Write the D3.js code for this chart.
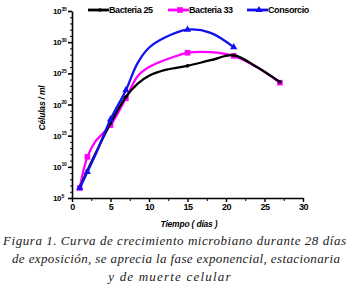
<!DOCTYPE html>
<html>
<head>
<meta charset="utf-8">
<script src="https://cdn.jsdelivr.net/npm/d3@7"></script>
<style>
  body { margin: 0; background: #fff; }
  svg { display: block; }
  .axis text { font-family: "Liberation Sans", Arial, sans-serif; font-weight: bold; }
</style>
</head>
<body>
<div id="chart"></div>
<script>
const width = 349;
const height = 297;

// days of measurement
const days = [1, 2, 3, 5, 7, 8.5, 10, 12, 15, 18, 21, 24, 27];
const markerDays = [1, 2, 5, 7, 15, 21, 27];
// log10(cells/ml)
const bacteria25 = [6.6, 9.4, 12.0, 17.0, 21.2, 23.3, 24.6, 25.5, 26.2, 27.1, 27.9, 26.0, 23.6];
const bacteria33 = [6.6, 11.6, 14.0, 16.7, 21.0, 24.5, 26.0, 27.1, 28.3, 28.4, 27.8, 26.0, 23.5];
const consorcio = [6.6, 9.2, 11.8, 17.6, 22.3, 26.6, 29.1, 30.7, 32.0, 31.5, 29.2];
const seriesNames = ["Bacteria 25", "Bacteria 33", "Consorcio"];
const yTicks = [5, 10, 15, 20, 25, 30, 35];
const xTicks = [0, 5, 10, 15, 20, 25, 30];
const captionLines = [
  "Figura 1. Curva de crecimiento microbiano durante 28 días",
  "de exposición, se aprecia la fase exponencial, estacionaria",
  "y de muerte celular"
];

const colors = ["#000000", "#ff00ff", "#1010f0"];
const series = [bacteria25, bacteria33, consorcio];

const svg = d3.select("#chart").append("svg")
  .attr("width", width)
  .attr("height", height);

const x = d3.scaleLinear().domain([0, 30]).range([72, 303]);
const y = d3.scaleLinear().domain([5, 35]).range([198, 11]);

// y axis: major + minor ticks
const yAxis = svg.append("g").attr("class", "axis")
  .attr("transform", `translate(${x(0)},0)`)
  .call(d3.axisLeft(y).tickValues(yTicks).tickFormat("").tickSize(4).tickSizeOuter(0));
yAxis.select(".domain").attr("stroke-width", 1.6);
yAxis.selectAll(".tick line").attr("stroke-width", 1.6);

svg.append("g").attr("transform", `translate(${x(0)},0)`)
  .call(d3.axisLeft(y).tickValues(d3.range(5, 36, 1).filter(v => v % 5 !== 0)).tickFormat("").tickSize(2).tickSizeOuter(0))
  .call(g => g.select(".domain").remove())
  .selectAll("line").attr("stroke-width", 1);

const yLab = svg.append("g");
yTicks.forEach(t => {
  yLab.append("text")
    .attr("x", 61)
    .attr("y", y(t) + 3)
    .attr("text-anchor", "end")
    .attr("font-family", "Liberation Sans, Arial, sans-serif")
    .attr("font-weight", "bold")
    .attr("font-size", 8)
    .attr("letter-spacing", -0.4)
    .text("10");
  yLab.append("text")
    .attr("x", 61.5)
    .attr("y", y(t) - 0.5)
    .attr("font-family", "Liberation Sans, Arial, sans-serif")
    .attr("font-weight", "bold")
    .attr("font-size", 5)
    .attr("letter-spacing", -0.3)
    .text(t);
});

// x axis
const xAxis = svg.append("g").attr("class", "axis")
  .attr("transform", `translate(0,${y(5)})`)
  .call(d3.axisBottom(x).tickValues(xTicks).tickSize(4).tickSizeOuter(0).tickPadding(2));
xAxis.select(".domain").attr("stroke-width", 1.6);
xAxis.selectAll(".tick line").attr("stroke-width", 1.4);
xAxis.selectAll("text").attr("font-size", 9).attr("letter-spacing", -0.5);

svg.append("g").attr("transform", `translate(0,${y(5)})`)
  .call(d3.axisBottom(x).tickValues(d3.range(2.5, 30, 5)).tickFormat("").tickSize(3).tickSizeOuter(0))
  .call(g => g.select(".domain").remove())
  .selectAll("line").attr("stroke-width", 1);

// axis titles
svg.append("text")
  .attr("x", 189).attr("y", 227)
  .attr("text-anchor", "middle")
  .attr("font-family", "Liberation Sans, Arial, sans-serif")
  .attr("font-weight", "bold").attr("font-style", "italic")
  .attr("font-size", 8.5)
  .attr("letter-spacing", -0.2)
  .text("Tiempo ( días )");

svg.append("text")
  .attr("transform", "translate(45,108) rotate(-90)")
  .attr("text-anchor", "middle")
  .attr("font-family", "Liberation Sans, Arial, sans-serif")
  .attr("font-weight", "bold").attr("font-style", "italic")
  .attr("font-size", 8.5)
  .attr("letter-spacing", -0.2)
  .text("Células / ml");

// lines
const line = d3.line()
  .x((d, i) => x(days[i]))
  .y(d => y(d))
  .curve(d3.curveCatmullRom.alpha(0.5));

function drawMarker(g, k, cx, cy) {
  if (k === 0) {
    g.append("circle").attr("cx", cx).attr("cy", cy).attr("r", 1.8).attr("fill", colors[k]);
  } else if (k === 1) {
    g.append("rect").attr("x", cx - 2.8).attr("y", cy - 2.8).attr("width", 5.6).attr("height", 5.6).attr("fill", colors[k]);
  } else {
    g.append("path").attr("d", d3.symbol(d3.symbolTriangle, 22)()).attr("transform", `translate(${cx},${cy})`).attr("fill", colors[k]);
  }
}

[1, 0, 2].forEach(k => {
  const vals = series[k];
  const g = svg.append("g");
  g.append("path")
    .datum(vals)
    .attr("d", line)
    .attr("fill", "none")
    .attr("stroke", colors[k])
    .attr("stroke-width", 2.3);
  vals.forEach((v, i) => {
    if (markerDays.includes(days[i])) drawMarker(g, k, x(days[i]), y(v));
  });
});

// legend
const legendX = [88, 168, 247];
seriesNames.forEach((name, k) => {
  const g = svg.append("g").attr("transform", `translate(${legendX[k]},10)`);
  g.append("line").attr("x1", 0).attr("x2", 21).attr("y1", 0).attr("y2", 0)
    .attr("stroke", colors[k]).attr("stroke-width", 2.8);
  drawMarker(g, k, 12, 0);
  g.append("text")
    .attr("x", 21).attr("y", 3.3)
    .attr("font-family", "Liberation Sans, Arial, sans-serif")
    .attr("font-weight", "bold")
    .attr("font-size", 9)
    .attr("letter-spacing", -0.4)
    .text(name);
});

// caption
const capY = [245, 263, 281];
captionLines.forEach((t, i) => {
  const txt = svg.append("text")
    .attr("y", capY[i])
    .attr("font-family", "Liberation Serif, serif")
    .attr("font-style", "italic")
    .attr("font-size", 13)
    .attr("fill", "#222")
    .text(t);
  if (i < 2) {
    const x0 = i === 0 ? 3 : 12;
    const x1 = i === 0 ? 346 : 340;
    txt.attr("x", x0).attr("textLength", x1 - x0).attr("lengthAdjust", "spacing");
  } else {
    txt.attr("x", 170).attr("text-anchor", "middle").attr("letter-spacing", 1.2);
  }
});
</script>
</body>
</html>
